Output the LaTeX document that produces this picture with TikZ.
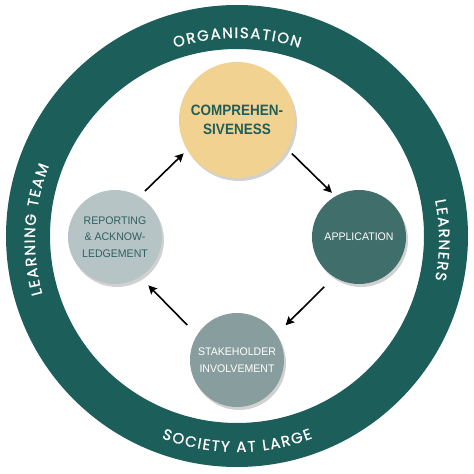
\documentclass[tikz,border=0pt]{standalone}
\usepackage{fontspec}
\setmainfont{Liberation Sans}
\newfontfamily\circfont{Liberation Sans}[FakeStretch=0.96]
\newfontfamily\circboldfont{Liberation Sans}[FakeStretch=0.9]
\newfontfamily\ringfont{Poppins}[FakeBold=1]
\usetikzlibrary{arrows.meta,decorations.text,shadows,calc}
\definecolor{ringteal}{HTML}{1B5E5A}
\definecolor{compfill}{HTML}{F2D290}
\definecolor{comptext}{HTML}{1F5E59}
\definecolor{appfill}{HTML}{406E6B}
\definecolor{repfill}{HTML}{B6C4C6}
\definecolor{reptext}{HTML}{2F5F5C}
\definecolor{stakefill}{HTML}{889E9E}
\begin{document}
\begin{tikzpicture}[x=1pt,y=1pt,
  circ/.style={circle, inner sep=0pt, outer sep=0pt, align=center,
    drop shadow={shadow xshift=2pt, shadow yshift=-3pt, opacity=0.18, fill=black}},
  regtext/.style={font={\circfont\fontsize{11}{16.5}\selectfont}},
  boldtext/.style={font={\circboldfont\bfseries\fontsize{15}{18.7}\selectfont}},
  arr/.style={line width=1.6pt, -{Stealth[length=8.5pt,width=8.5pt,inset=1.5pt]}},
  ringtext/.style={decorate, decoration={text along path, text align=center, text={#1}}}
]
\useasboundingbox (0,0) rectangle (474,474);
\fill[white] (0,0) rectangle (474,474);
\coordinate (rc) at (237,238);
\coordinate (tc) at (237,234);
\fill[ringteal, even odd rule] (rc) circle[radius=231] (rc) circle[radius=187];

% ring labels
\path[ringtext={|\ringfont\color{white}\fontsize{15}{18}\selectfont|O{\kern1.5pt}R{\kern1.5pt}G{\kern1.5pt}A{\kern1.5pt}N{\kern1.5pt}I{\kern1.5pt}S{\kern1.5pt}A{\kern1.5pt}T{\kern1.5pt}I{\kern1.5pt}O{\kern1.5pt}N}]
  ($(tc)+(150:202)$) arc[start angle=150, end angle=30, radius=202];
\path[ringtext={|\ringfont\color{white}\fontsize{15}{18}\selectfont|L{\kern1.5pt}E{\kern1.5pt}A{\kern1.5pt}R{\kern1.5pt}N{\kern1.5pt}E{\kern1.5pt}R{\kern1.5pt}S}]
  ($(tc)+(60:202)$) arc[start angle=60, end angle=-60, radius=202];
\path[ringtext={|\ringfont\color{white}\fontsize{15}{18}\selectfont|L{\kern1.5pt}E{\kern1.5pt}A{\kern1.5pt}R{\kern1.5pt}N{\kern1.5pt}I{\kern1.5pt}N{\kern1.5pt}G{\kern1.5pt} {\kern1.5pt}T{\kern1.5pt}E{\kern1.5pt}A{\kern1.5pt}M}]
  ($(tc)+(237:202)$) arc[start angle=237, end angle=117, radius=202];
\path[ringtext={|\ringfont\color{white}\fontsize{15}{18}\selectfont|S{\kern1.5pt}O{\kern1.5pt}C{\kern1.5pt}I{\kern1.5pt}E{\kern1.5pt}T{\kern1.5pt}Y{\kern1.5pt} {\kern1.5pt}A{\kern1.5pt}T{\kern1.5pt} {\kern1.5pt}L{\kern1.5pt}A{\kern1.5pt}R{\kern1.5pt}G{\kern1.5pt}E}]
  ($(tc)+(210:212)$) arc[start angle=210, end angle=330, radius=212];

% circles
\node[circ, boldtext, fill=compfill, text=comptext, minimum size=116pt] (comp) at (237,354) {COMPREHEN-\\SIVENESS};
\node[circ, regtext, fill=appfill, text=white, minimum size=94pt] (app) at (359,237) {APPLICATION};
\node[circ, regtext, fill=repfill, text=reptext, minimum size=94pt] (rep) at (115,237) {REPORTING\\\&~ACKNOW-\\LEDGEMENT};
\node[circ, regtext, fill=stakefill, text=white, minimum size=94pt] (stake) at (237,114) {STAKEHOLDER\\INVOLVEMENT};

% arrows
\draw[arr, shorten <=8pt, shorten >=5pt] (rep.59) -- (comp.211);
\draw[arr, shorten <=6.5pt, shorten >=5pt] (comp.330) -- (app.120);
\draw[arr, shorten <=14pt, shorten >=13pt] (app.238) -- (stake.33);
\draw[arr, shorten <=14pt, shorten >=12pt] (stake.148) -- (rep.302);
\end{tikzpicture}
\end{document}
